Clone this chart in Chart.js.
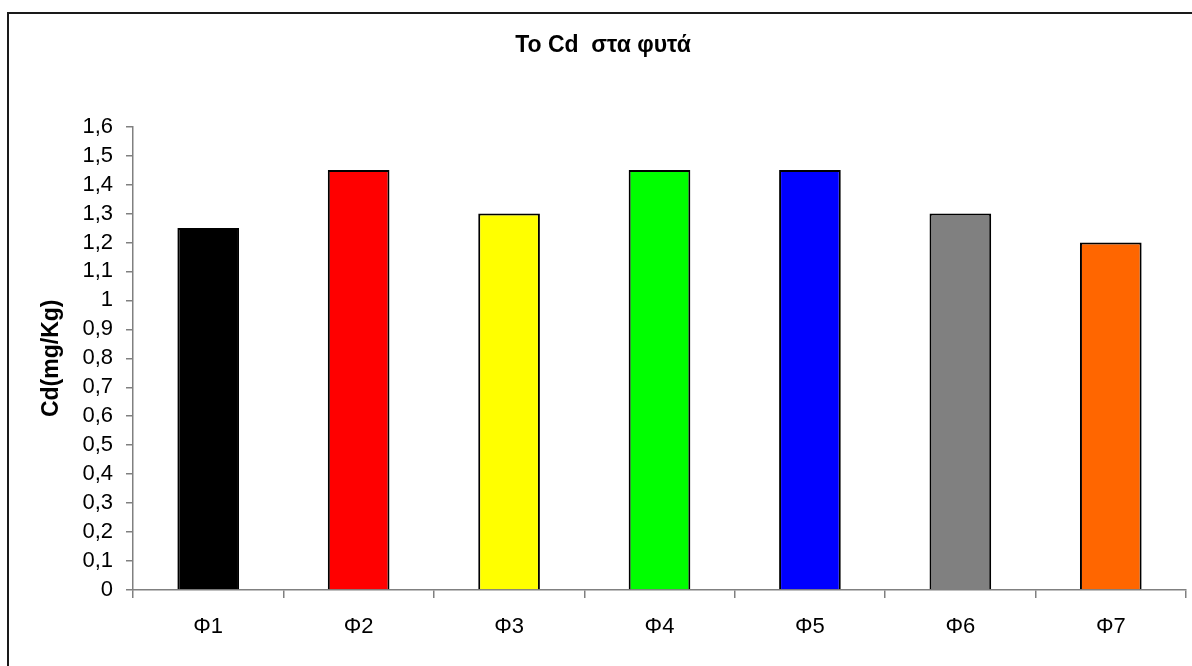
<!DOCTYPE html>
<html>
<head>
<meta charset="utf-8">
<title>Το Cd στα φυτά</title>
<script src="https://cdn.jsdelivr.net/npm/chart.js@4/dist/chart.umd.min.js"></script>
<style>
  html, body { margin: 0; padding: 0; background: #ffffff; }
  #wrap { position: relative; width: 1192px; height: 666px; }
  canvas { display: block; }
</style>
</head>
<body>
<div id="wrap"><canvas id="chart" width="1192" height="666"></canvas></div>
<script>
// Cadmium content per plant sample
const categories = ['Φ1', 'Φ2', 'Φ3', 'Φ4', 'Φ5', 'Φ6', 'Φ7'];
const cdValues = [1.25, 1.45, 1.3, 1.45, 1.45, 1.3, 1.2];
const barColors = ['#000000', '#FF0000', '#FFFF00', '#00FF00', '#0000FF', '#808080', '#FF6600'];
const yTickLabels = ['0', '0,1', '0,2', '0,3', '0,4', '0,5', '0,6', '0,7', '0,8',
                     '0,9', '1', '1,1', '1,2', '1,3', '1,4', '1,5', '1,6'];

const FONT = '"Liberation Sans", Arial, sans-serif';

// Frame line along the top and left edges of the chart object
const framePlugin = {
  id: 'frame',
  beforeDraw(chart) {
    const ctx = chart.ctx;
    ctx.save();
    ctx.fillStyle = '#ffffff';
    ctx.fillRect(0, 0, chart.width, chart.height);
    ctx.strokeStyle = '#1a1a1a';
    ctx.lineWidth = 2;
    ctx.beginPath();
    ctx.moveTo(8, chart.height);
    ctx.lineTo(8, 13);
    ctx.lineTo(chart.width, 13);
    ctx.stroke();
    ctx.restore();
  }
};

new Chart(document.getElementById('chart'), {
  type: 'bar',
  data: {
    labels: categories,
    datasets: [{
      data: cdValues,
      backgroundColor: barColors,
      borderColor: '#000000',
      borderWidth: 2,
      barPercentage: 0.41,
      categoryPercentage: 1.0
    }]
  },
  options: {
    responsive: false,
    animation: false,
    devicePixelRatio: 1,
    layout: { padding: { left: 20, right: 6, top: 0, bottom: 0 } },
    plugins: {
      legend: { display: false },
      tooltip: { enabled: false },
      title: {
        display: true,
        text: 'Το Cd  στα φυτά',
        color: '#000000',
        font: { family: FONT, size: 23, weight: 'bold', lineHeight: 1.2 },
        padding: { top: 32, bottom: 67 }
      }
    },
    scales: {
      x: {
        offset: true,
        grid: {
          display: true,
          offset: true,
          drawOnChartArea: false,
          drawTicks: true,
          tickLength: 8,
          color: '#808080',
          lineWidth: 1.5
        },
        border: { display: true, color: '#808080', width: 1.5 },
        ticks: {
          color: '#000000',
          font: { family: FONT, size: 22 },
          padding: 16,
          maxRotation: 0,
          autoSkip: false
        },
        afterFit(scale) { scale.height = 76; }
      },
      y: {
        min: 0,
        max: 1.6,
        grid: {
          display: true,
          drawOnChartArea: false,
          drawTicks: true,
          tickLength: 7,
          color: '#808080',
          lineWidth: 1.5
        },
        border: { display: true, color: '#808080', width: 1.5 },
        ticks: {
          stepSize: 0.1,
          autoSkip: false,
          color: '#000000',
          font: { family: FONT, size: 22, lineHeight: 1.0 },
          padding: 13,
          callback: (value, index) => yTickLabels[index]
        },
        title: {
          display: true,
          text: 'Cd(mg/Kg)',
          color: '#000000',
          font: { family: FONT, size: 23, weight: 'bold', lineHeight: 1.2 },
          padding: { top: 18, bottom: 0 }
        },
        afterFit(scale) { scale.width = 113; }
      }
    }
  },
  plugins: [framePlugin]
});
</script>
</body>
</html>
